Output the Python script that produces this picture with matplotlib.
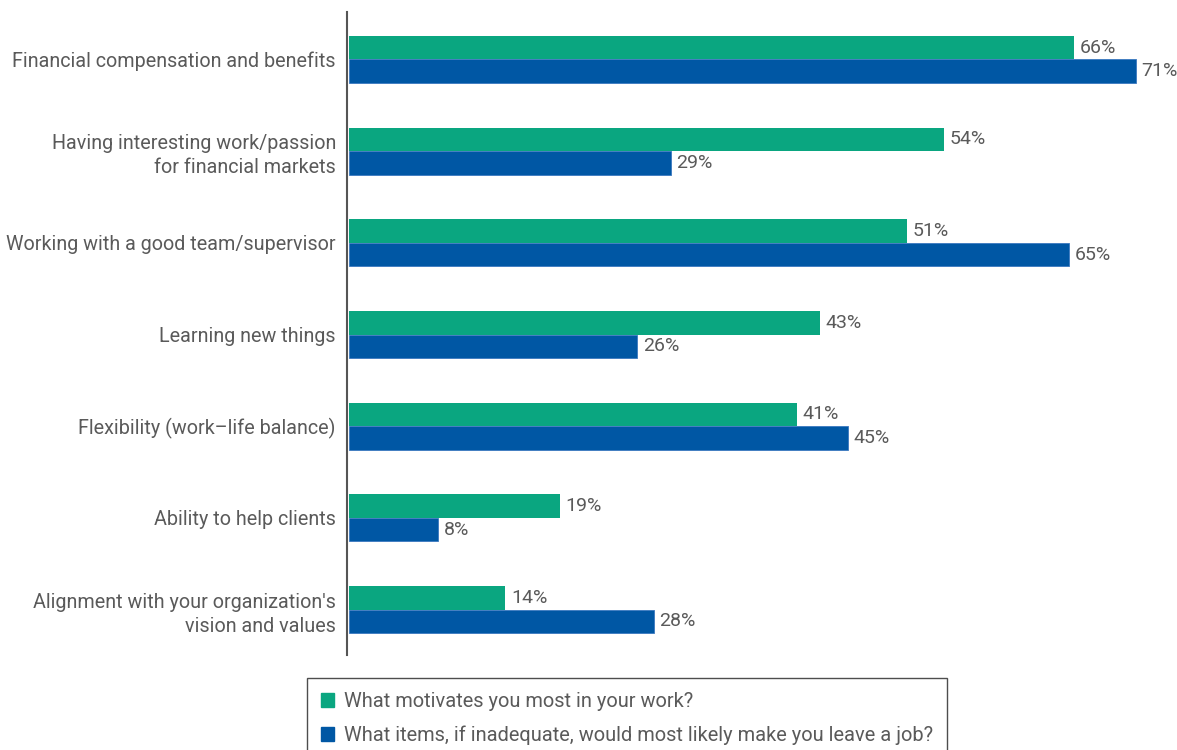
import matplotlib
matplotlib.use("Agg")
import matplotlib.pyplot as plt
import numpy as np
from matplotlib.patches import Patch

categories = [
    "Financial compensation and benefits",
    "Having interesting work/passion\nfor financial markets",
    "Working with a good team/supervisor",
    "Learning new things",
    "Flexibility (work–life balance)",
    "Ability to help clients",
    "Alignment with your organization's\nvision and values",
]
# bar lengths as drawn
motivates = [65.4, 53.7, 50.3, 42.5, 40.4, 19.0, 14.1]
leave = [71.0, 29.0, 65.0, 26.0, 45.0, 8.0, 27.5]
# printed labels
motivates_labels = ["66%", "54%", "51%", "43%", "41%", "19%", "14%"]
leave_labels = ["71%", "29%", "65%", "26%", "45%", "8%", "28%"]
series_names = [
    "What motivates you most in your work?",
    "What items, if inadequate, would most likely make you leave a job?",
]

GREEN = "#0AA680"
BLUE = "#0057A4"
TXT = "#5a5a5a"

plt.rcParams['font.family'] = ['Roboto', 'DejaVu Sans']

W, H = 1177, 750
fig = plt.figure(figsize=(W / 100, H / 100), dpi=100)
left, right, top, bottom = 347, 1177, 12, 655
ax = fig.add_axes([left / W, 1 - bottom / H, (right - left) / W, (bottom - top) / H])

pxper = 11.08
ax.set_xlim(0, (right - left) / pxper)
ax.set_ylim(6 + 0.496, -0.518)

y = np.arange(len(categories))
h = 0.256
off = 0.2
ax.barh(y - h / 2, motivates, height=h, color=GREEN, left=off)
ax.barh(y + h / 2, leave, height=h, color=BLUE, left=off, edgecolor="#3a78c0", linewidth=0.6)

for i in range(len(categories)):
    ax.text(motivates[i] + off + 0.5, i - h / 2, motivates_labels[i], va="center", ha="left",
            fontsize=14, color=TXT)
    ax.text(leave[i] + off + 0.5, i + h / 2, leave_labels[i], va="center", ha="left",
            fontsize=14, color=TXT)

ax.set_yticks(y)
ax.set_yticklabels(categories, fontsize=14.2, color=TXT, linespacing=1.35)
ax.tick_params(axis="y", length=0, pad=8)
ax.set_xticks([])
for s in ["top", "right", "bottom"]:
    ax.spines[s].set_visible(False)
ax.spines["left"].set_color("#555555")
ax.spines["left"].set_linewidth(1.5)

handles = [Patch(facecolor=GREEN, edgecolor=GREEN), Patch(facecolor=BLUE, edgecolor=BLUE)]
leg = fig.legend(handles, series_names, loc="upper left",
                 bbox_to_anchor=(307 / W, 1 - 678 / H), frameon=True, fancybox=False,
                 fontsize=14.4, handlelength=0.65, handleheight=0.65, handletextpad=0.5,
                 labelspacing=0.72, borderpad=0.7, borderaxespad=0)
leg.get_frame().set_edgecolor("#222222")
leg.get_frame().set_linewidth(1.0)
for t in leg.get_texts():
    t.set_color(TXT)

fig.savefig("out.png", dpi=100)
